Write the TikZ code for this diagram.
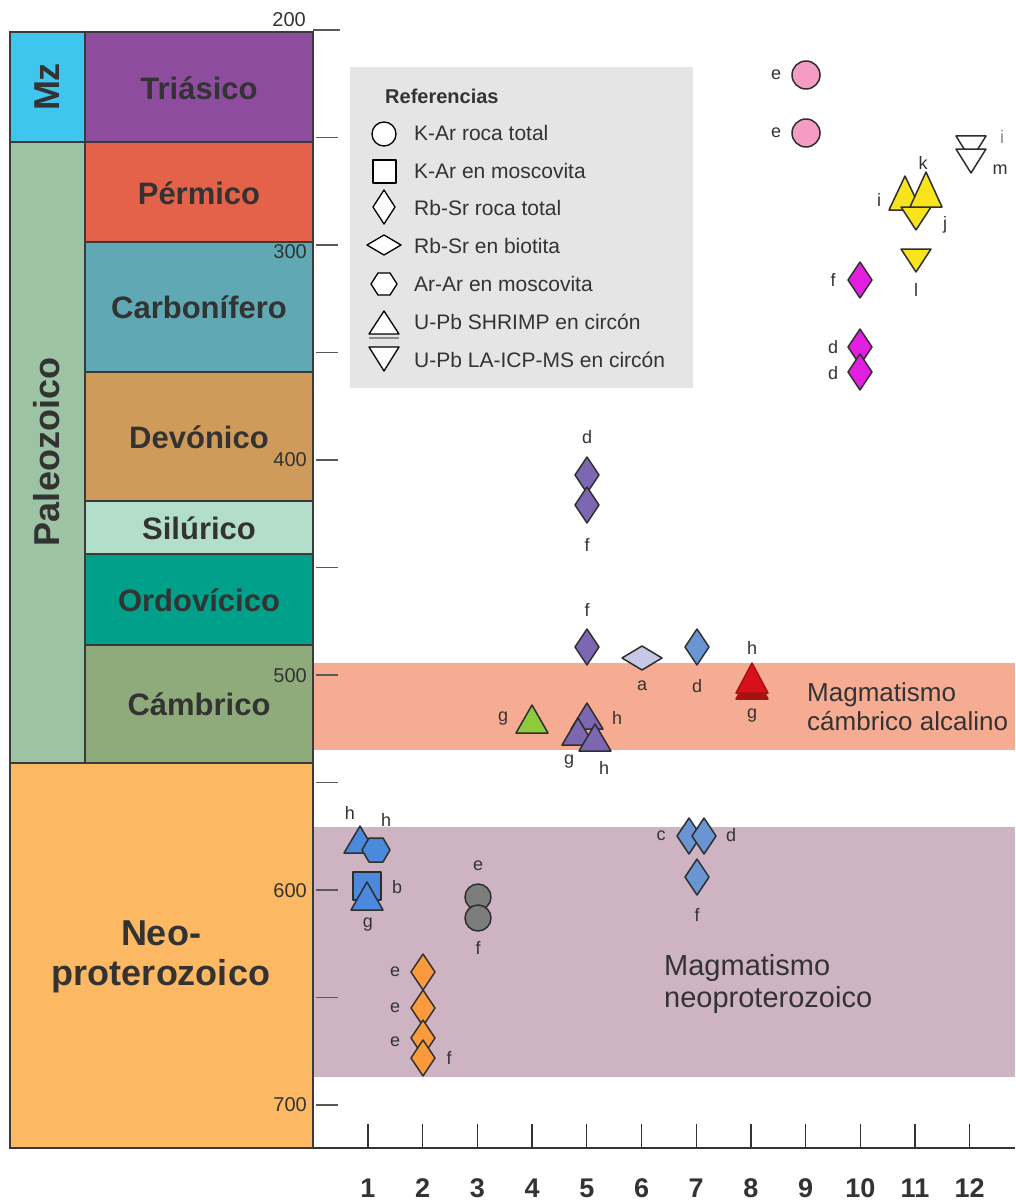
\documentclass[tikz,border=0pt]{standalone}
\usepackage{fontspec}
\setmainfont{Liberation Sans}
\definecolor{mzc}{HTML}{3EC6EE}
\definecolor{tric}{HTML}{8E4C9E}
\definecolor{permc}{HTML}{E4624A}
\definecolor{carbc}{HTML}{5FA8B4}
\definecolor{devoc}{HTML}{CF9B5B}
\definecolor{siluc}{HTML}{B3DFCA}
\definecolor{ordoc}{HTML}{00A08A}
\definecolor{cambc}{HTML}{8FAB7B}
\definecolor{paleoc}{HTML}{9CC3A4}
\definecolor{neoc}{HTML}{FDB863}
\definecolor{bandA}{HTML}{F6AC93}
\definecolor{bandB}{HTML}{CEB4C2}
\definecolor{legc}{HTML}{E5E5E5}
\definecolor{pinkc}{HTML}{F59BC4}
\definecolor{magc}{HTML}{E21FE0}
\definecolor{yelc}{HTML}{F7E41D}
\definecolor{purc}{HTML}{7C68B2}
\definecolor{lavc}{HTML}{C7C8E6}
\definecolor{bluec}{HTML}{6A95D2}
\definecolor{blueb}{HTML}{4A89DC}
\definecolor{redc}{HTML}{D8101C}
\definecolor{redd}{HTML}{A51212}
\definecolor{grnc}{HTML}{8DCB3C}
\definecolor{grayc}{HTML}{7D7D7D}
\definecolor{orac}{HTML}{F99B3C}
\definecolor{txt}{HTML}{333333}
\definecolor{mkline}{HTML}{2E2E2E}
\definecolor{boxline}{HTML}{3A3A3A}
\newcommand\mkdia[3]{\draw[mk,fill=#3] (#1,#2-18) -- (#1+12,#2) -- (#1,#2+18) -- (#1-12,#2) -- cycle;}
\newcommand\mkhdia[3]{\draw[mk,fill=#3] (#1-20,#2) -- (#1,#2-12) -- (#1+20,#2) -- (#1,#2+12) -- cycle;}
\newcommand\mktri[4]{\draw[mk,fill=#4] (#1,#2) -- (#1+16,#3) -- (#1-16,#3) -- cycle;}
\newcommand\mkdtri[4]{\draw[mk,fill=#4] (#1-15,#2) -- (#1+15,#2) -- (#1,#3) -- cycle;}
\newcommand\mkcirc[4]{\draw[mk,fill=#4] (#1,#2) circle[radius=#3];}
\newcommand\mksq[3]{\draw[mk,fill=#3] (#1-14,#2-14) rectangle (#1+14,#2+14);}
\newcommand\mkhex[3]{\draw[mk,fill=#3] (#1-14,#2) -- (#1-7,#2-12) -- (#1+7,#2-12) -- (#1+14,#2) -- (#1+7,#2+12) -- (#1-7,#2+12) -- cycle;}
\begin{document}
\begin{tikzpicture}[x=1pt,y=-1pt,
  mk/.style={draw=mkline,line width=1.5pt,line join=round},
  lk/.style={draw=black,line width=1.3pt,line join=round,fill=white},
  box/.style={draw=boxline,line width=1.8pt},
  lbl/.style={font=\fontsize{18}{20}\selectfont,text=txt,inner sep=0pt},
  per/.style={font=\bfseries\fontsize{31}{36}\selectfont,text=txt,inner sep=0pt},
  era/.style={font=\bfseries\fontsize{36}{40}\selectfont,text=txt,inner sep=0pt},
  age/.style={font=\fontsize{20}{22}\selectfont,text=txt,inner sep=0pt,anchor=east},
  num/.style={font=\bfseries\fontsize{27}{30}\selectfont,text=txt,inner sep=0pt},
  legt/.style={font=\fontsize{21}{24}\selectfont,text=txt,inner sep=0pt,anchor=west},
  tickl/.style={draw=black!65,line width=1.3pt}]
\useasboundingbox (0,0) rectangle (1015,1204);
\fill[white] (0,0) rectangle (1015,1204);
% bands
\fill[bandA] (313,663) rectangle (1015,750);
\fill[bandB] (313,827) rectangle (1015,1077);
% column
\draw[box,fill=mzc] (10,32) rectangle (85,142);
\draw[box,fill=paleoc] (10,142) rectangle (85,763);
\draw[box,fill=tric] (85,32) rectangle (313,142);
\draw[box,fill=permc] (85,142) rectangle (313,242);
\draw[box,fill=carbc] (85,242) rectangle (313,372);
\draw[box,fill=devoc] (85,372) rectangle (313,501);
\draw[box,fill=siluc] (85,501) rectangle (313,554);
\draw[box,fill=ordoc] (85,554) rectangle (313,645);
\draw[box,fill=cambc] (85,645) rectangle (313,763);
\draw[box,fill=neoc] (10,763) rectangle (313,1148);
\node[era,rotate=90] (mz) at (47,87) {Mz};
\node[era,rotate=90] (pal) at (47,452) {Paleozoico};
\node[per] (ptri) at (199,88) {Triásico};
\node[per] (pper) at (199,193) {Pérmico};
\node[per] (pcar) at (199,307) {Carbonífero};
\node[per] (pdev) at (199,437) {Devónico};
\node[per] (psil) at (199,528) {Silúrico};
\node[per] (pord) at (199,600) {Ordovícico};
\node[per] (pcam) at (199,704) {Cámbrico};
\node[era,align=center] (neo) at (161,957) {Neo-\\proterozoico};
% age axis
\draw[tickl] (313,30) -- (340,30);
\foreach \a in {250,300,...,700}{
  \draw[tickl] (316,{30+(\a-200)*2.15}) -- (338,{30+(\a-200)*2.15});
}
\node[age] (a200) at (306,20) {200};
\node[age] (a300) at (307,252) {300};
\node[age] (a400) at (307,460) {400};
\node[age] (a500) at (307,676) {500};
\node[age] (a600) at (307,891) {600};
\node[age] (a700) at (307,1105) {700};
% bottom axis
\draw[draw=black!80,line width=1.5pt] (313,1148) -- (1015,1148);
\foreach \n in {1,...,12}{
  \draw[draw=black!80,line width=1.3pt] ({368+(\n-1)*54.7},1124) -- ({368+(\n-1)*54.7},1148);
  \node[num] (n\n) at ({368+(\n-1)*54.7},1188) {\n};
}
% band texts
\node[font=\fontsize{26}{29}\selectfont,text=txt,align=left,anchor=west,inner sep=0pt] (bt1) at (807,707) {Magmatismo\\cámbrico alcalino};
\node[font=\fontsize{29}{32}\selectfont,text=txt,align=left,anchor=west,inner sep=0pt] (bt2) at (664,984) {Magmatismo\\neoproterozoico};
% legend
\fill[legc] (350,67) rectangle (693,388);
\node[font=\bfseries\fontsize{20}{24}\selectfont,text=txt,inner sep=0pt,anchor=west] (leg) at (385,96) {Referencias};
\draw[lk] (384,134) circle[radius=12];
\draw[lk] (373,160) rectangle (396,183);
\draw[lk] (384,190) -- (395,207) -- (384,224) -- (373,207) -- cycle;
\draw[lk] (367,245) -- (384,235) -- (401,245) -- (384,255) -- cycle;
\draw[lk] (371,284) -- (378,273) -- (390,273) -- (397,284) -- (390,295) -- (378,295) -- cycle;
\draw[draw=black!45,line width=1.2pt] (369,338) -- (399,338);
\draw[lk] (384,311) -- (399,334) -- (369,334) -- cycle;
\draw[lk] (369,347) -- (399,347) -- (384,371) -- cycle;
\node[legt] (r1) at (414,133) {K-Ar roca total};
\node[legt] (r2) at (414,171) {K-Ar en moscovita};
\node[legt] (r3) at (414,208) {Rb-Sr roca total};
\node[legt] (r4) at (414,246) {Rb-Sr en biotita};
\node[legt] (r5) at (414,284) {Ar-Ar en moscovita};
\node[legt] (r6) at (414,322) {U-Pb SHRIMP en circón};
\node[legt] (r7) at (414,360) {U-Pb LA-ICP-MS en circón};
% ---- data: column 9
\mkcirc{806}{75}{14}{pinkc}
\mkcirc{806}{133}{14}{pinkc}
\node[lbl] (l1) at (776,75) {e};
\node[lbl] (l2) at (776,133) {e};
% column 12
\mkdtri{971}{136}{160}{white}
\mkdtri{971}{149}{173}{white}
\node[lbl,text=black!45] (l3) at (1002,137) {i};
\node[lbl] (l4) at (1000,170) {m};
% column 11
\mktri{905}{176}{210}{yelc}
\mkdtri{916}{207}{230}{yelc}
\mktri{926}{172}{207}{yelc}
\mkdtri{916}{249}{272}{yelc}
\node[lbl] (l5) at (923,163) {k};
\node[lbl] (l6) at (879,200) {i};
\node[lbl] (l7) at (945,225) {j};
\node[lbl] (l8) at (916,290) {l};
% column 10
\mkdia{860}{280}{magc}
\mkdia{860}{347}{magc}
\mkdia{860}{372}{magc}
\node[lbl] (l9) at (833,280) {f};
\node[lbl] (l10) at (833,347) {d};
\node[lbl] (l11) at (833,373) {d};
% column 5 (upper)
\mkdia{587}{475}{purc}
\mkdia{587}{505}{purc}
\mkdia{587}{647}{purc}
\node[lbl] (l12) at (587,437) {d};
\node[lbl] (l13) at (587,545) {f};
\node[lbl] (l14) at (587,610) {f};
% column 6
\mkhdia{642}{658}{lavc}
\node[lbl] (l15) at (642,686) {a};
% column 7
\mkdia{697}{647}{bluec}
\node[lbl] (l16) at (697,686) {d};
% column 8
\draw[mk,draw=redd,fill=redd] (752,670) -- (768,699) -- (736,699) -- cycle;
\draw[mk,draw=redd,fill=redc] (752,663) -- (768,693) -- (736,693) -- cycle;
\node[lbl] (l17) at (752,648) {h};
\node[lbl] (l18) at (752,716) {g};
% column 4
\mktri{532}{705}{733}{grnc}
\node[lbl] (l19) at (503,719) {g};
% column 5 triangles
\mktri{587}{703}{729}{purc}
\mktri{578}{718}{745}{purc}
\mktri{595}{724}{751}{purc}
\node[lbl] (l20) at (617,718) {h};
\node[lbl] (l21) at (569,762) {g};
\node[lbl] (l22) at (604,768) {h};
% column 1
\mktri{360}{826}{853}{blueb}
\mkhex{376}{850}{blueb}
\mksq{367}{886}{blueb}
\mktri{367}{882}{910}{blueb}
\node[lbl] (l23) at (350,813) {h};
\node[lbl] (l24) at (386,820) {h};
\node[lbl] (l25) at (397,887) {b};
\node[lbl] (l26) at (368,925) {g};
% column 3
\mkcirc{478}{897}{13}{grayc}
\mkcirc{478}{918}{13}{grayc}
\node[lbl] (l27) at (478,866) {e};
\node[lbl] (l28) at (478,948) {f};
% column 2
\mkdia{423}{972}{orac}
\mkdia{423}{1008}{orac}
\mkdia{423}{1038}{orac}
\mkdia{423}{1058}{orac}
\node[lbl] (l29) at (395,972) {e};
\node[lbl] (l30) at (395,1008) {e};
\node[lbl] (l31) at (395,1042) {e};
\node[lbl] (l32) at (449,1058) {f};
% column 7 (neo)
\mkdia{689}{836}{bluec}
\mkdia{704}{836}{bluec}
\mkdia{697}{877}{bluec}
\node[lbl] (l33) at (661,836) {c};
\node[lbl] (l34) at (731,835) {d};
\node[lbl] (l35) at (697,915) {f};
\end{tikzpicture}
\end{document}
